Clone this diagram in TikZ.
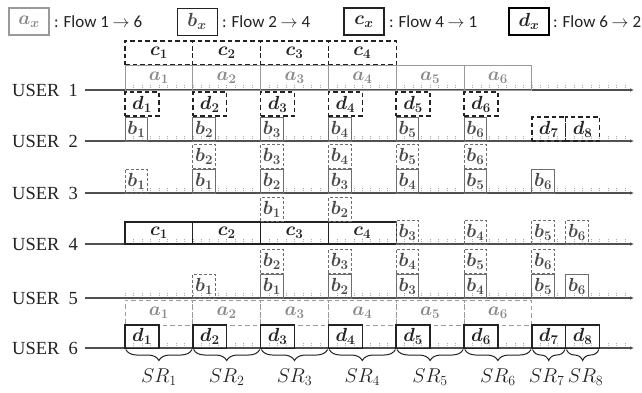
\RequirePackage{fix-cm}
\documentclass[tikz,border=0pt]{standalone}
\usepackage{amsmath}
\usepackage[no-math]{fontspec}
\setmainfont{Liberation Serif}
\newfontfamily\legfont{Carlito}
\usetikzlibrary{arrows.meta,decorations.pathreplacing}
\definecolor{axc}{HTML}{505050}
\definecolor{agray}{HTML}{9A9A9A}
\definecolor{alab}{HTML}{8A8A8A}
\definecolor{bbox}{HTML}{6E6E6E}
\definecolor{blab}{HTML}{4A4A4A}
\definecolor{dk}{HTML}{222222}
\definecolor{tickc}{HTML}{A8A8A8}
\newcommand\plab[2]{$\boldsymbol{#1_{#2}}$}
\begin{document}
\begin{tikzpicture}[x=1pt,y=-1pt,
  every node/.style={inner sep=0pt, outer sep=0pt},
  cellfont/.style={font=\fontsize{19}{21}\selectfont},
  cell/.style={cellfont, anchor=north west, minimum height=24pt},
  boxA/.style={cell, draw=agray, line width=1pt, text=alab, minimum width=67.8pt},
  boxAd/.style={boxA, dash pattern=on 4.5pt off 3pt},
  boxC/.style={cell, draw=dk, line width=1.3pt, text=dk, minimum width=67.8pt},
  boxCd/.style={boxC, line width=1.2pt, dash pattern=on 4.5pt off 3pt},
  boxB/.style={cell, draw=bbox, line width=1pt, text=blab, minimum width=22.6pt},
  boxBd/.style={boxB, dash pattern=on 3pt off 2pt},
  boxD/.style={cell, draw=dk, line width=1.5pt, text=dk, minimum width=33.9pt},
  boxDd/.style={boxD, dash pattern=on 4.5pt off 3pt},
  axisline/.style={draw=axc, line width=1.1pt, -{Latex[length=4pt,width=3.5pt]}},
  tickmark/.style={draw=tickc, line width=0.6pt, dash pattern=on 1.2pt off 0.9pt},
  userlab/.style={font=\fontsize{18.5}{20}\selectfont, anchor=east, text=dk},
  legbox/.style={anchor=north west, minimum width=40pt, minimum height=27pt, cellfont},
  legtext/.style={font=\legfont\fontsize{17}{19}\selectfont, anchor=west, text=dk},
  srbrace/.style={draw=dk, line width=1pt, decorate, decoration={brace, mirror, amplitude=11pt, aspect=0.5}},
  srlab/.style={font=\fontsize{20}{22}\selectfont, text=dk}
]
\useasboundingbox (0,0) rectangle (642,392);

% legend
\node[legbox, draw=agray, line width=1.1pt, text=alab] (lega) at (9,8) {\plab{a}{x}};
\node[legtext] (legat) at (54,21.5) {: Flow 1 $\to$ 6};
\node[legbox, draw=dk, line width=1pt, text=blab] (legb) at (177,8) {\plab{b}{x}};
\node[legtext] (legbt) at (222,21.5) {: Flow 2 $\to$ 4};
\node[legbox, draw=dk, line width=1.2pt, text=dk] (legc) at (344,8) {\plab{c}{x}};
\node[legtext] (legct) at (389,21.5) {: Flow 4 $\to$ 1};
\node[legbox, draw=black, line width=1.6pt, text=dk] (legd) at (509,8) {\plab{d}{x}};
\node[legtext] (legdt) at (553,21.5) {: Flow 6 $\to$ 2};

% axes and ticks
\foreach \u/\y in {1/90,2/141,3/193,4/244,5/298,6/348} {
  \foreach \t in {0,...,59} {
    \draw[tickmark] ({125+8.475*\t},\y) -- ++(0,-5.5);
  }
  \node[userlab] (user\u) at (78,\y) {USER\ \ \u};
  \coordinate (st\u) at (85,\y);
  \coordinate (end\u) at (634,\y);
  \draw[axisline] (st\u) -- (end\u);
}

% USER 1
\foreach \k in {1,...,4} {
  \node[boxCd, minimum height=24pt] (u1c\k) at ({125+67.8*(\k-1)},41) {\plab{c}{\k}};
}
\foreach \k in {1,...,6} {
  \node[boxA, minimum height=25pt] (u1a\k) at ({125+67.8*(\k-1)},65) {\plab{a}{\k}};
  \node[boxDd] (u1d\k) at ({125+67.8*(\k-1)},92) {\plab{d}{\k}};
}

% USER 2
\foreach \k in {1,...,6} {
  \node[boxB] (u2b\k) at ({125+67.8*(\k-1)},117) {\plab{b}{\k}};
}
\node[boxDd] (u2d7) at (531.8,117) {\plab{d}{7}};
\node[boxDd] (u2d8) at (565.7,117) {\plab{d}{8}};

% USER 3
\node[boxBd] (u3bd1) at (125,169) {\plab{b}{1}};
\foreach \k [evaluate=\k as \j using int(\k-1)] in {2,...,6} {
  \node[boxBd] (u3bd\k) at ({125+67.8*(\k-1)},144) {\plab{b}{\k}};
  \node[boxB] (u3bs\j) at ({125+67.8*(\k-1)},169) {\plab{b}{\j}};
}
\node[boxB] (u3bs6) at (531.8,169) {\plab{b}{6}};

% USER 4
\foreach \k in {1,...,4} {
  \node[boxC, minimum height=22pt] (u4c\k) at ({125+67.8*(\k-1)},222) {\plab{c}{\k}};
}
\node[boxBd] (u4bd1) at (260.6,197) {\plab{b}{1}};
\node[boxBd] (u4bd2) at (328.4,197) {\plab{b}{2}};
\node[boxBd] (u4bd3) at (396.2,220) {\plab{b}{3}};
\node[boxBd] (u4bd4) at (464,220) {\plab{b}{4}};
\node[boxBd] (u4bd5) at (531.8,220) {\plab{b}{5}};
\node[boxBd] (u4bd6) at (565.7,220) {\plab{b}{6}};

% USER 5
\node[boxBd] (u5bd1) at (192.8,274) {\plab{b}{1}};
\foreach \k [evaluate=\k as \j using int(\k-1), evaluate=\k as \i using int(\k-2)] in {3,...,7} {
  \node[boxBd] (u5bd\j) at ({125+67.8*(\k-1)},249) {\plab{b}{\j}};
  \node[boxB] (u5bs\i) at ({125+67.8*(\k-1)},274) {\plab{b}{\i}};
}
\node[boxB] (u5bs6) at (565.7,274) {\plab{b}{6}};

% USER 6
\foreach \k in {1,...,6} {
  \node[boxAd, minimum height=25pt] (u6a\k) at ({125+67.8*(\k-1)},300) {\plab{a}{\k}};
  \node[boxD, minimum height=23.5pt] (u6d\k) at ({125+67.8*(\k-1)},325) {\plab{d}{\k}};
}
\node[boxD, minimum height=23.5pt] (u6d7) at (531.8,325) {\plab{d}{7}};
\node[boxD, minimum height=23.5pt] (u6d8) at (565.7,325) {\plab{d}{8}};

% scheduling rounds
\foreach \k in {1,...,6} {
  \coordinate (bl\k) at ({125+67.8*(\k-1)+0.8},349.5);
  \coordinate (br\k) at ({125+67.8*\k-0.8},349.5);
  \draw[srbrace] (bl\k) -- (br\k);
  \node[srlab] (sr\k) at ({125+67.8*(\k-0.5)},377) {$SR_{\k}$};
}
\coordinate (bl7) at (532.6,349.5);
\coordinate (br7) at (564.9,349.5);
\draw[srbrace] (bl7) -- (br7);
\node[srlab] (sr7) at (546.7,377) {$SR_{7}$};
\coordinate (bl8) at (566.5,349.5);
\coordinate (br8) at (598.8,349.5);
\draw[srbrace] (bl8) -- (br8);
\node[srlab] (sr8) at (585.6,377) {$SR_{8}$};
\end{tikzpicture}
\end{document}
